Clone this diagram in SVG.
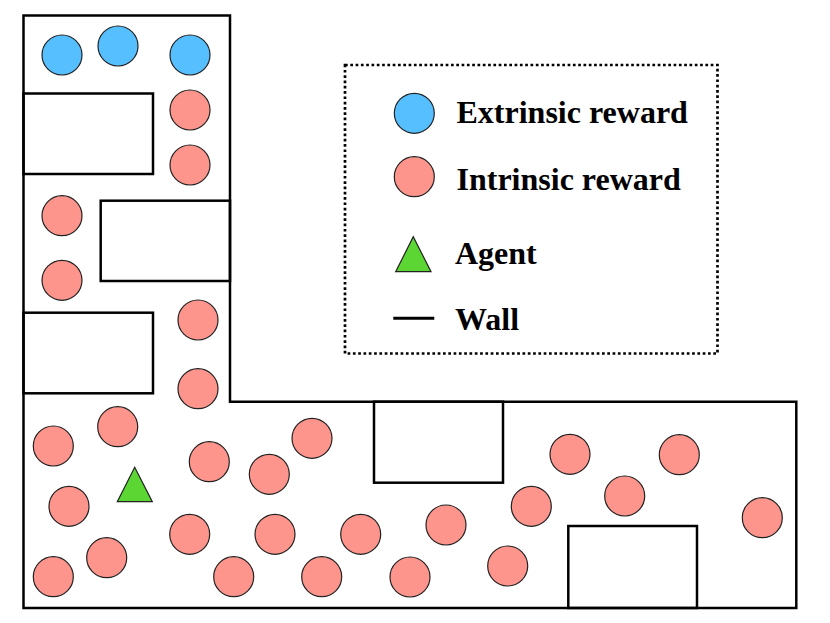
<svg xmlns="http://www.w3.org/2000/svg" width="830" height="623" viewBox="0 0 830 623">
<style>
.wall{fill:none;stroke:#000;stroke-width:2.5}
.ext{fill:#55bfff;stroke:#222;stroke-width:1.2}
.int{fill:#fe958d;stroke:#222;stroke-width:1.2}
.agent{fill:#5cd633;stroke:#222;stroke-width:1.2}
.lbl{font-family:"Liberation Serif","Times New Roman",serif;font-weight:bold;font-size:32px;fill:#000}
</style>
<rect width="830" height="623" fill="#fff"/>
<g id="walls">
<path class="wall" d="M23.5,15.5 H230 V401.7 H796.3 V608 H23.5 Z"/>
<rect class="wall" x="23.5" y="93.5" width="129.5" height="80.5"/>
<rect class="wall" x="100.7" y="200.7" width="129.3" height="80.3"/>
<rect class="wall" x="23.5" y="312.7" width="129.5" height="80.6"/>
<rect class="wall" x="374" y="401.7" width="129" height="81"/>
<rect class="wall" x="568.3" y="526" width="128.7" height="82"/>
</g>
<g id="extrinsic">
<circle class="ext" cx="62" cy="55" r="20"/>
<circle class="ext" cx="118" cy="46" r="20"/>
<circle class="ext" cx="190" cy="55" r="20"/>
</g>
<g id="intrinsic">
<circle class="int" cx="190" cy="110" r="20"/>
<circle class="int" cx="190" cy="165" r="20"/>
<circle class="int" cx="62" cy="215.7" r="20"/>
<circle class="int" cx="62" cy="280.3" r="20"/>
<circle class="int" cx="198" cy="320" r="20"/>
<circle class="int" cx="198" cy="388.7" r="20"/>
<circle class="int" cx="53.3" cy="446" r="20"/>
<circle class="int" cx="117.7" cy="426.7" r="20"/>
<circle class="int" cx="69" cy="506.3" r="20"/>
<circle class="int" cx="106.7" cy="557.7" r="20"/>
<circle class="int" cx="53.3" cy="576.7" r="20"/>
<circle class="int" cx="209.3" cy="461.7" r="20"/>
<circle class="int" cx="269.3" cy="474.3" r="20"/>
<circle class="int" cx="312" cy="438.3" r="20"/>
<circle class="int" cx="189.7" cy="534.3" r="20"/>
<circle class="int" cx="275" cy="534.3" r="20"/>
<circle class="int" cx="360.7" cy="534.3" r="20"/>
<circle class="int" cx="233.7" cy="576.7" r="20"/>
<circle class="int" cx="321.7" cy="576.7" r="20"/>
<circle class="int" cx="410" cy="577" r="20"/>
<circle class="int" cx="446" cy="525" r="20"/>
<circle class="int" cx="507.7" cy="566" r="20"/>
<circle class="int" cx="531.3" cy="506.3" r="20"/>
<circle class="int" cx="570" cy="454.3" r="20"/>
<circle class="int" cx="624.7" cy="496" r="20"/>
<circle class="int" cx="679.3" cy="454.7" r="20"/>
<circle class="int" cx="762.3" cy="517.7" r="20"/>
</g>
<g id="agent">
<polygon class="agent" points="134.7,467.3 152.3,501.7 117.3,501.7"/>
</g>
<g id="legend">
<rect x="345" y="65" width="372.5" height="288.5" fill="none" stroke="#000" stroke-width="2.7" stroke-dasharray="2.7,2.6"/>
<circle class="ext" cx="414.3" cy="113.3" r="20"/>
<text class="lbl" x="456.5" y="123.3">Extrinsic reward</text>
<circle class="int" cx="414.3" cy="176.7" r="20"/>
<text class="lbl" x="456.5" y="190">Intrinsic reward</text>
<polygon class="agent" points="413.3,236.7 431,271.7 395.7,271.7"/>
<text class="lbl" x="455" y="264">Agent</text>
<line x1="393.3" y1="318.3" x2="434.3" y2="318.3" stroke="#000" stroke-width="3"/>
<text class="lbl" x="455" y="330">Wall</text>
</g>
</svg>
